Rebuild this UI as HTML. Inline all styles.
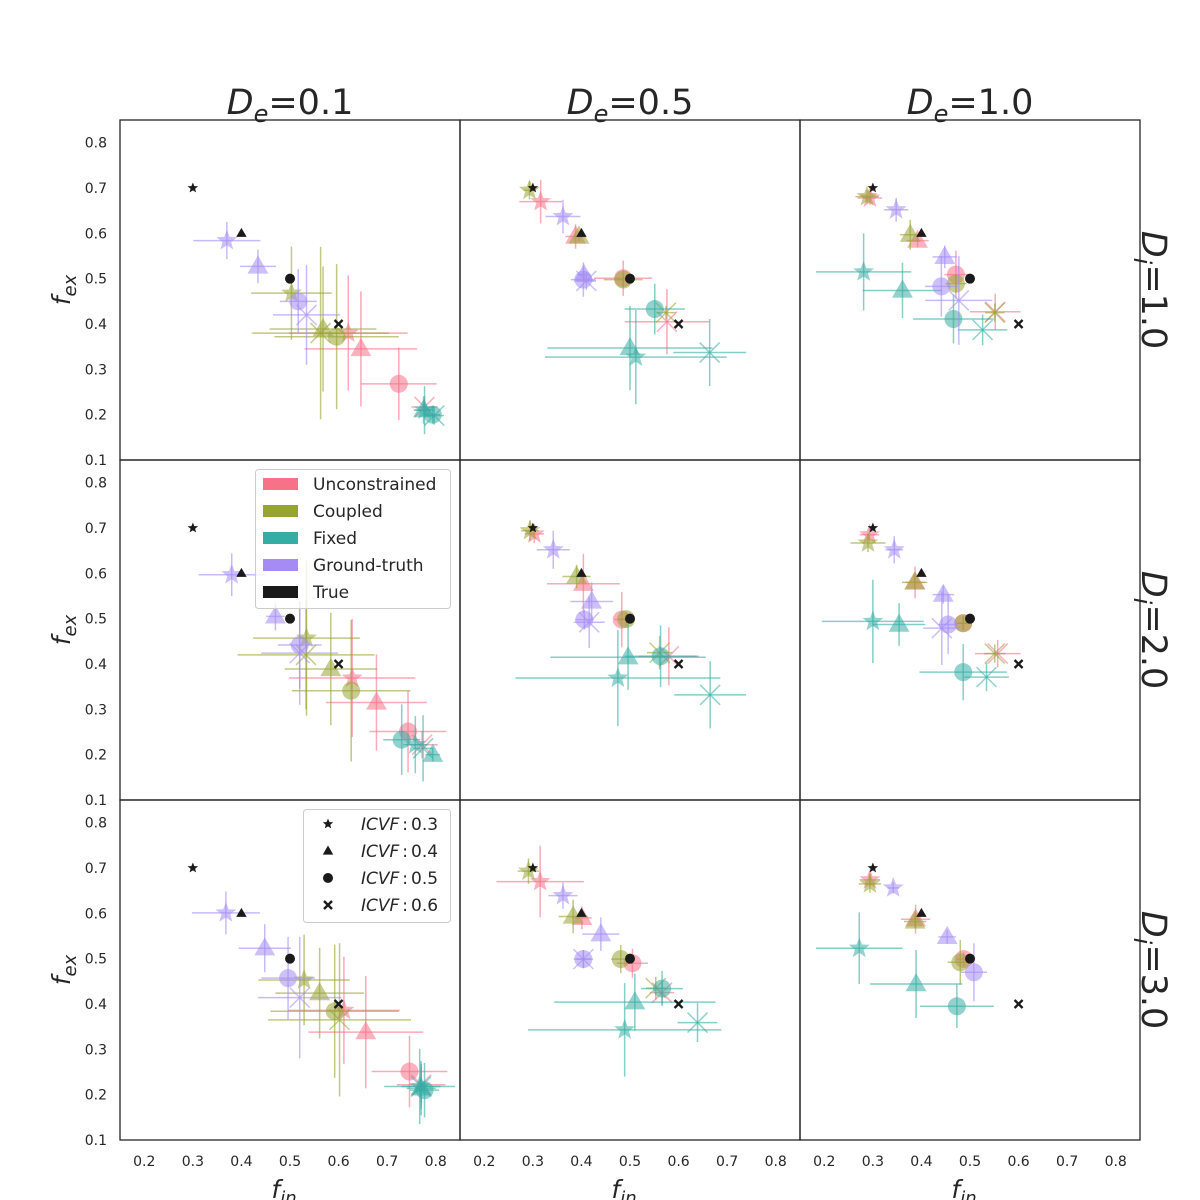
<!DOCTYPE html>
<html><head><meta charset="utf-8">
<style>
html,body{margin:0;padding:0;background:#fff;}
svg{display:block;font-family:"DejaVu Sans","Liberation Sans",sans-serif;}
</style></head>
<body>
<svg id="chart" width="1200" height="1200" viewBox="0 0 1200 1200" xmlns="http://www.w3.org/2000/svg">
<g id="marks"></g>
<g id="frames"></g>
<g id="labels"></g>
<g id="legends"></g>
</svg>
<script>
// ---- data (per panel index p = row*3+col; each panel: 4 ICVF entries [x, y, xerr, yerr]) ----
const colTitles = ["0.1", "0.5", "1.0"];
const rowTitles = ["1.0", "2.0", "3.0"];
const xTicks = [0.2, 0.3, 0.4, 0.5, 0.6, 0.7, 0.8];
const yTicks = [0.1, 0.2, 0.3, 0.4, 0.5, 0.6, 0.7, 0.8];
const icvfLabels = ["0.3", "0.4", "0.5", "0.6"];
const trueX = [0.3, 0.4, 0.5, 0.6];
const trueY = [0.7, 0.6, 0.5, 0.4];
const methodNames = ["Unconstrained", "Coupled", "Fixed", "Ground-truth"];

const unconstrained = [
 [[0.62,0.38,0.122,0.127],[0.646,0.345,0.116,0.127],[0.724,0.268,0.078,0.08],[0.777,0.217,0.027,0.024]],
 [[0.316,0.67,0.044,0.048],[0.388,0.593,0.021,0.027],[0.486,0.501,0.06,0.039],[0.576,0.405,0.087,0.072]],
 [[0.294,0.678,0.025,0.015],[0.392,0.584,0.023,0.015],[0.471,0.509,0.024,0.053],[0.552,0.427,0.052,0.04]],
 [[0.628,0.369,0.13,0.13],[0.678,0.315,0.104,0.106],[0.743,0.251,0.079,0.09],[0.772,0.222,0.032,0.03]],
 [[0.303,0.687,0.02,0.02],[0.404,0.577,0.075,0.066],[0.483,0.498,0.015,0.061],[0.58,0.417,0.062,0.064]],
 [[0.293,0.685,0.02,0.015],[0.387,0.58,0.02,0.035],[0.486,0.49,0.015,0.015],[0.557,0.423,0.047,0.03]],
 [[0.611,0.386,0.115,0.118],[0.656,0.338,0.118,0.124],[0.746,0.251,0.078,0.079],[0.77,0.222,0.05,0.04]],
 [[0.315,0.67,0.09,0.079],[0.401,0.59,0.02,0.025],[0.505,0.49,0.032,0.032],[0.566,0.425,0.025,0.025]],
 [[0.294,0.674,0.021,0.015],[0.388,0.587,0.03,0.032],[0.487,0.499,0.015,0.015],null]
];
const coupled = [
 [[0.503,0.468,0.083,0.103],[0.568,0.389,0.11,0.138],[0.596,0.372,0.128,0.16],[0.563,0.38,0.141,0.19]],
 [[0.293,0.695,0.012,0.02],[0.395,0.593,0.01,0.01],[0.486,0.498,0.04,0.015],[0.574,0.425,0.02,0.015]],
 [[0.288,0.681,0.024,0.015],[0.377,0.597,0.021,0.033],[0.471,0.489,0.022,0.02],[0.551,0.425,0.02,0.02]],
 [[0.534,0.457,0.11,0.171],[0.584,0.389,0.095,0.124],[0.626,0.341,0.122,0.156],[0.533,0.42,0.141,0.12]],
 [[0.294,0.694,0.018,0.023],[0.39,0.593,0.029,0.026],[0.492,0.499,0.015,0.015],[0.561,0.425,0.026,0.037]],
 [[0.29,0.667,0.036,0.02],[0.386,0.58,0.026,0.015],[0.486,0.49,0.015,0.015],[0.551,0.423,0.022,0.02]],
 [[0.529,0.453,0.094,0.1],[0.561,0.424,0.091,0.1],[0.592,0.384,0.132,0.147],[0.602,0.365,0.147,0.169]],
 [[0.291,0.693,0.022,0.028],[0.383,0.593,0.03,0.037],[0.481,0.499,0.02,0.031],[0.553,0.435,0.02,0.025]],
 [[0.294,0.665,0.023,0.02],[0.387,0.582,0.023,0.015],[0.48,0.492,0.026,0.049],null]
];
const fixed = [
 [[0.777,0.21,0.02,0.053],[0.775,0.21,0.02,0.03],[0.794,0.2,0.015,0.02],[0.797,0.198,0.02,0.02]],
 [[0.512,0.327,0.187,0.104],[0.5,0.347,0.17,0.093],[0.551,0.433,0.062,0.056],[0.664,0.337,0.075,0.074]],
 [[0.281,0.515,0.098,0.085],[0.361,0.474,0.082,0.061],[0.466,0.411,0.083,0.054],[0.526,0.387,0.051,0.034]],
 [[0.758,0.222,0.025,0.063],[0.794,0.2,0.015,0.015],[0.73,0.233,0.038,0.078],[0.774,0.214,0.02,0.073]],
 [[0.475,0.369,0.211,0.106],[0.496,0.415,0.16,0.072],[0.563,0.417,0.074,0.068],[0.665,0.332,0.074,0.074]],
 [[0.3,0.494,0.105,0.092],[0.354,0.487,0.054,0.047],[0.486,0.382,0.09,0.062],[0.534,0.371,0.046,0.031]],
 [[0.767,0.218,0.073,0.083],[0.77,0.214,0.03,0.06],[0.777,0.21,0.03,0.06],[0.77,0.218,0.04,0.05]],
 [[0.489,0.343,0.199,0.103],[0.51,0.404,0.166,0.063],[0.566,0.434,0.043,0.039],[0.639,0.359,0.041,0.043]],
 [[0.272,0.523,0.089,0.079],[0.389,0.444,0.095,0.075],[0.473,0.395,0.076,0.048],null]
];
const groundTruth = [
 [[0.37,0.584,0.069,0.041],[0.434,0.527,0.037,0.037],[0.517,0.45,0.038,0.071],[0.534,0.42,0.069,0.11]],
 [[0.362,0.637,0.036,0.037],[0.405,0.509,0.013,0.015],[0.404,0.498,0.026,0.038],[0.41,0.495,0.02,0.02]],
 [[0.348,0.652,0.025,0.026],[0.448,0.548,0.025,0.025],[0.441,0.483,0.034,0.067],[0.477,0.452,0.069,0.098]],
 [[0.38,0.597,0.068,0.047],[0.47,0.505,0.019,0.031],[0.52,0.442,0.045,0.096],[0.52,0.424,0.079,0.114]],
 [[0.342,0.652,0.034,0.042],[0.421,0.538,0.044,0.042],[0.406,0.498,0.019,0.022],[0.416,0.492,0.032,0.057]],
 [[0.344,0.652,0.018,0.03],[0.445,0.553,0.022,0.02],[0.455,0.487,0.02,0.065],[0.442,0.479,0.038,0.081]],
 [[0.368,0.601,0.07,0.047],[0.448,0.523,0.054,0.053],[0.496,0.457,0.055,0.091],[0.52,0.414,0.086,0.134]],
 [[0.362,0.639,0.03,0.029],[0.44,0.554,0.038,0.037],[0.404,0.499,0.015,0.02],[0.404,0.499,0.02,0.02]],
 [[0.342,0.656,0.012,0.012],[0.453,0.548,0.018,0.015],[0.508,0.47,0.027,0.064],null]
];
const methodColors = ["#f77189", "#97a431", "#36ada4", "#a48cf4"];

const NS = "http://www.w3.org/2000/svg";
const X0 = 120, Y0 = 120, PW = 340, PH = 340;
const XMIN = 0.15, XMAX = 0.85, YMIN = 0.1, YMAX = 0.85;
function sx(c, v){ return X0 + c*PW + (v - XMIN) / (XMAX - XMIN) * PW; }
function sy(r, v){ return Y0 + r*PH + (YMAX - v) / (YMAX - YMIN) * PH; }
function mk(tag, attrs, parent){
  const e = document.createElementNS(NS, tag);
  for (const k in attrs) e.setAttribute(k, attrs[k]);
  parent.appendChild(e);
  return e;
}
function starPts(cx, cy, R, r){
  let p = [];
  for (let i = 0; i < 10; i++){
    const a = -Math.PI/2 + i*Math.PI/5;
    const rr = i % 2 ? r : R;
    p.push((cx + rr*Math.cos(a)).toFixed(1) + "," + (cy + rr*Math.sin(a)).toFixed(1));
  }
  return p.join(" ");
}
function drawMarker(parent, k, cx, cy, color, big, op){
  let el;
  if (k === 0){
    el = mk("polygon", {points: starPts(cx, cy, big ? 11 : 5.5, big ? 4.6 : 2.4), fill: color, "fill-opacity": op}, parent);
  } else if (k === 1){
    const s = big ? 11 : 5.5;
    el = mk("polygon", {points: `${cx},${cy-s} ${cx+s*0.95},${cy+s*0.65} ${cx-s*0.95},${cy+s*0.65}`, fill: color, "fill-opacity": op}, parent);
  } else if (k === 2){
    el = mk("circle", {cx: cx, cy: cy, r: big ? 9 : 5, fill: color, "fill-opacity": op}, parent);
  } else {
    const s = big ? 10 : 4;
    el = mk("path", {d: `M${cx-s},${cy-s}L${cx+s},${cy+s}M${cx-s},${cy+s}L${cx+s},${cy-s}`, stroke: color, "stroke-width": big ? 1.5 : 2.4, "stroke-opacity": big ? op : 1, fill: "none"}, parent);
  }
  return el;
}

const marks = document.getElementById("marks");
const methods = [unconstrained, coupled, fixed, groundTruth];
for (let p = 0; p < 9; p++){
  const r = Math.floor(p/3), c = p % 3;
  const pg = mk("g", {}, marks);
  
  
  methods.forEach((arr, m) => {
    arr[p].forEach((d, k) => {
      if (!d) return;
      const g = mk("g", {}, pg);
      
      
      const cx = sx(c, d[0]), cy = sy(r, d[1]);
      mk("line", {x1: sx(c, d[0]-d[2]), x2: sx(c, d[0]+d[2]), y1: cy, y2: cy, stroke: methodColors[m], "stroke-width": 1.5, "stroke-opacity": 0.6}, g);
      mk("line", {x1: cx, x2: cx, y1: sy(r, d[1]-d[3]), y2: sy(r, d[1]+d[3]), stroke: methodColors[m], "stroke-width": 1.5, "stroke-opacity": 0.6}, g);
      drawMarker(g, k, cx, cy, methodColors[m], true, 0.55);
    });
  });
  trueX.forEach((tx, k) => {
    const t = drawMarker(pg, k, sx(c, tx), sy(r, trueY[k]), "#1a1a1a", false, 1);
    
    
  });
}

const frames = document.getElementById("frames");
const labels = document.getElementById("labels");
for (let r = 0; r < 3; r++) for (let c = 0; c < 3; c++){
  const f = mk("rect", {x: X0 + c*PW, y: Y0 + r*PH, width: PW, height: PH, fill: "none", stroke: "#262626", "stroke-width": 1.3}, frames);
  
  
}
for (let c = 0; c < 3; c++){
  xTicks.forEach(v => {
    const t = mk("text", {x: sx(c, v), y: 1166, "text-anchor": "middle", "font-size": 14, fill: "#262626"}, labels);
    t.textContent = v.toFixed(1);
    
    
  });
  const xl = mk("text", {x: X0 + c*PW + PW/2 - 6, y: 1198, "text-anchor": "middle", "font-size": 25, fill: "#262626", "font-style": "italic"}, labels);
  xl.innerHTML = 'f<tspan font-size="18" dy="6">in</tspan>';
  
  
  const ct = mk("text", {x: X0 + c*PW + PW/2, y: 114, "text-anchor": "middle", "font-size": 35, fill: "#262626"}, labels);
  ct.innerHTML = '<tspan font-style="italic">D</tspan><tspan font-size="24" dy="8" font-style="italic">e</tspan><tspan dy="-8">=' + colTitles[c] + '</tspan>';
  
  
}
for (let r = 0; r < 3; r++){
  yTicks.forEach(v => {
    const t = mk("text", {x: 107, y: sy(r, v) + 5, "text-anchor": "end", "font-size": 14, fill: "#262626"}, labels);
    t.textContent = v.toFixed(1);
    
    
  });
  const cy = Y0 + r*PH + PH/2;
  const yl = mk("text", {x: 0, y: 0, "text-anchor": "middle", "font-size": 25, fill: "#262626", "font-style": "italic", transform: `translate(70,${cy}) rotate(-90)`}, labels);
  yl.innerHTML = 'f<tspan font-size="18" dy="6">ex</tspan>';
  
  
  const rt = mk("text", {x: 0, y: 0, "text-anchor": "middle", "font-size": 35, fill: "#262626", transform: `translate(1142,${cy}) rotate(90)`}, labels);
  rt.innerHTML = '<tspan font-style="italic">D</tspan><tspan font-size="24" dy="8" font-style="italic">i</tspan><tspan dy="-8">=' + rowTitles[r] + '</tspan>';
  
  
}

const leg = document.getElementById("legends");
const lg1 = mk("g", {}, leg);


mk("rect", {x: 255.5, y: 469.5, width: 195, height: 139, rx: 3, fill: "#fff", "fill-opacity": 0.8, stroke: "#ccc"}, lg1);
const legNames = methodNames.concat(["True"]);
const legCols = ["#f77189", "#97a431", "#36ada4", "#a48cf4", "#1a1a1a"];
legNames.forEach((n, i) => {
  const y = 484 + i*27;
  const e = mk("g", {}, lg1);
  
  
  mk("rect", {x: 263, y: y - 6, width: 35, height: 12, fill: legCols[i]}, e);
  const t = mk("text", {x: 313, y: y + 6, "font-size": 17, fill: "#262626"}, e);
  t.textContent = n;
});
const lg2 = mk("g", {}, leg);


mk("rect", {x: 303.5, y: 809.5, width: 147, height: 113, rx: 3, fill: "#fff", "fill-opacity": 0.8, stroke: "#ccc"}, lg2);
icvfLabels.forEach((l, i) => {
  const y = 824 + i*27;
  const e = mk("g", {}, lg2);
  
  
  drawMarker(e, i, 328, y, "#1a1a1a", false, 1);
  const t = mk("text", {x: 361, y: y + 6, "font-size": 17, fill: "#262626"}, e);
  t.innerHTML = '<tspan font-style="italic">ICVF</tspan><tspan dx="3">:</tspan><tspan dx="3">' + l + '</tspan>';
});
</script>
</body></html>
